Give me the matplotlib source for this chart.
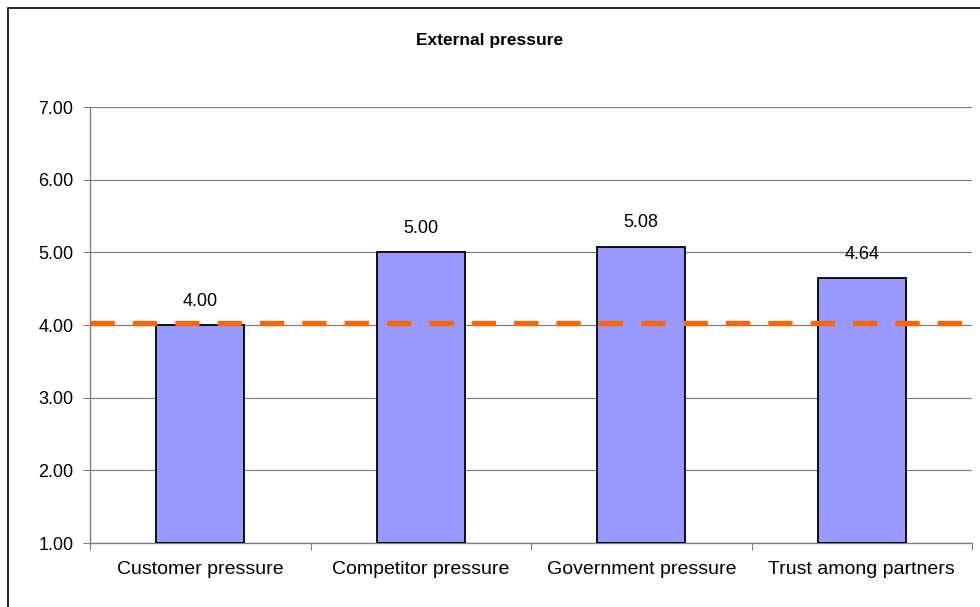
import matplotlib.pyplot as plt
from matplotlib.patches import Rectangle

categories = ["Customer pressure", "Competitor pressure", "Government pressure", "Trust among partners"]
values = [4.00, 5.00, 5.08, 4.64]
reference = 4.03
yticks = [1, 2, 3, 4, 5, 6, 7]

plt.rcParams["font.family"] = ["Liberation Sans", "DejaVu Sans"]
plt.rcParams["lines.scale_dashes"] = False

fig = plt.figure(figsize=(9.8, 6.07), dpi=100)
ax = fig.add_axes([90 / 980, 1 - 543 / 607, 882 / 980, 436 / 607])

x = range(len(categories))
bars = ax.bar(x, [v - 1 for v in values], bottom=1, width=0.4,
              color="#9999FF", edgecolor="black", linewidth=1.3, zorder=3)
for i, v in enumerate(values):
    ax.annotate(f"{v:.2f}", (i, v), xytext=(0, 17), textcoords="offset points",
                ha="center", va="center", fontsize=13)

ax.axhline(reference, color="#FF6600", linewidth=3.8, dashes=(17.5, 13),
           zorder=4)

ax.set_ylim(1, 7)
ax.set_xlim(-0.5, len(categories) - 0.5)
ax.set_yticks(yticks)
ax.set_yticklabels([f"{t:.2f}" for t in yticks], fontsize=13)
ax.set_xticks([i - 0.5 for i in range(len(categories) + 1)])
ax.set_xticklabels([])
ax.set_xticks(list(x), minor=True)
ax.set_xticklabels(categories, minor=True, fontsize=14)
ax.tick_params(axis="x", which="minor", length=0, pad=13)
ax.tick_params(axis="x", which="major", length=5, color="#808080", direction="out")
ax.tick_params(axis="y", length=5, color="#808080", direction="out", pad=7)
ax.grid(axis="y", color="#808080", linewidth=0.9, zorder=0)
for side in ["top", "right"]:
    ax.spines[side].set_visible(False)
for side in ["left", "bottom"]:
    ax.spines[side].set_color("#808080")
    ax.spines[side].set_linewidth(1)

fig.text(0.5, 1 - 40 / 607, "External pressure", ha="center", va="center",
         fontsize=12.5, fontweight="bold")
fig.add_artist(Rectangle((8 / 980, -0.01), 1, 1 - 8 / 607 + 0.01, transform=fig.transFigure,
                         fill=False, edgecolor="black", linewidth=1.2))

fig.savefig("out.png", dpi=100)
